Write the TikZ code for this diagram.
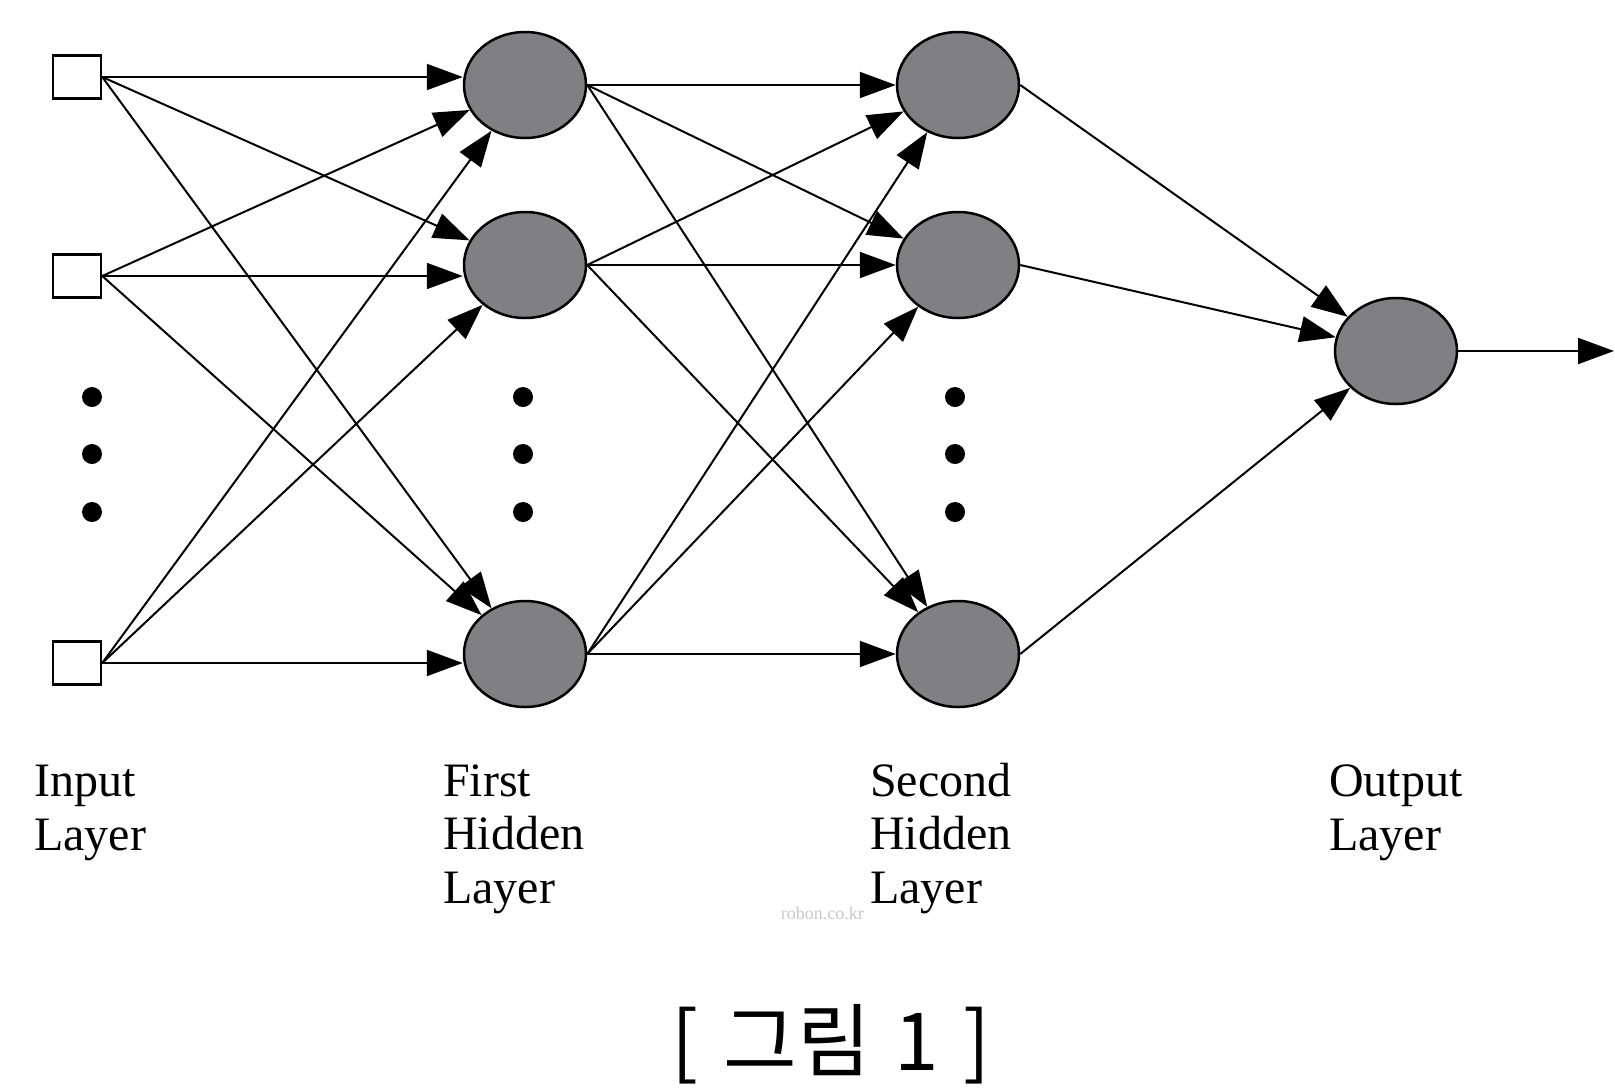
\documentclass[tikz,border=0pt]{standalone}
\usepackage{fontspec}
\setmainfont{Liberation Serif}
\newfontfamily\krfont{Noto Sans CJK KR}
\usetikzlibrary{shapes.geometric,arrows.meta}
\definecolor{neurongray}{RGB}{128,128,131}
\begin{document}
\begin{tikzpicture}[x=1pt,y=-1pt,
  inbox/.style={draw,line width=2.5pt,fill=white,minimum width=48pt,minimum height=43pt,inner sep=0pt},
  neuron/.style={ellipse,draw,line width=2.5pt,fill=neurongray,minimum width=122pt,minimum height=106pt,inner sep=0pt},
  conn/.style={line width=2pt,-{Triangle[length=36pt,width=26pt]}},
  vdot/.style={circle,fill=black,minimum size=20pt,inner sep=0pt},
  lbl/.style={anchor=base west,font=\fontsize{48}{53.5}\selectfont,align=left,inner sep=0pt},
]
\useasboundingbox (0,0) rectangle (1615,1088);
% input layer
\node[inbox] (i1) at (77,77) {};
\node[inbox] (i2) at (77,276) {};
\node[inbox] (i3) at (77,663) {};
% first hidden layer
\node[neuron] (h1) at (525,85) {};
\node[neuron] (h2) at (525,265) {};
\node[neuron] (h3) at (525,654) {};
% second hidden layer
\node[neuron] (g1) at (958,85) {};
\node[neuron] (g2) at (958,265) {};
\node[neuron] (g3) at (958,654) {};
% output
\node[neuron] (o) at (1396,351) {};
\coordinate (out) at (1614,351);
% dots
\foreach \n/\x in {a/92,b/523,c/955}{
  \node[vdot] (d\n1) at (\x,397) {};
  \node[vdot] (d\n2) at (\x,454) {};
  \node[vdot] (d\n3) at (\x,512) {};
}
% connections input -> first hidden
\foreach \s/\h in {i1/h1,i2/h2,i3/h3}{
  \draw[conn] (\s.east) -- (\s.east -| \h.west);
}
\foreach \s/\t in {i1/h2,i1/h3,i2/h1,i2/h3,i3/h1,i3/h2}{
  \draw[conn] (\s.east) -- (\t);
}
% first hidden -> second hidden
\foreach \s in {h1,h2,h3}{
  \foreach \t in {g1,g2,g3}{
    \draw[conn] (\s.east) -- (\t);
  }
}
% second hidden -> output
\foreach \s in {g1,g2,g3}{
  \draw[conn] (\s.east) -- (o);
}
\draw[conn] (o.east) -- (out);
% labels
\node[lbl] (l1) at (34,850) {Input\\Layer};
\node[lbl] (l2) at (443,903) {First\\Hidden\\Layer};
\node[lbl] (l3) at (870,903) {Second\\Hidden\\Layer};
\node[lbl] (l4) at (1329,850) {Output\\Layer};
\node[font=\fontsize{18}{18}\selectfont,text=black!22,anchor=east,inner sep=0pt] (wm) at (864,913) {robon.co.kr};
\node[font=\krfont\fontsize{80}{84}\selectfont,anchor=base,inner sep=0pt] (cap) at (831,1070) {[\hspace{25pt}그림\hspace{24pt}1\hspace{24pt}]};
\end{tikzpicture}
\end{document}
